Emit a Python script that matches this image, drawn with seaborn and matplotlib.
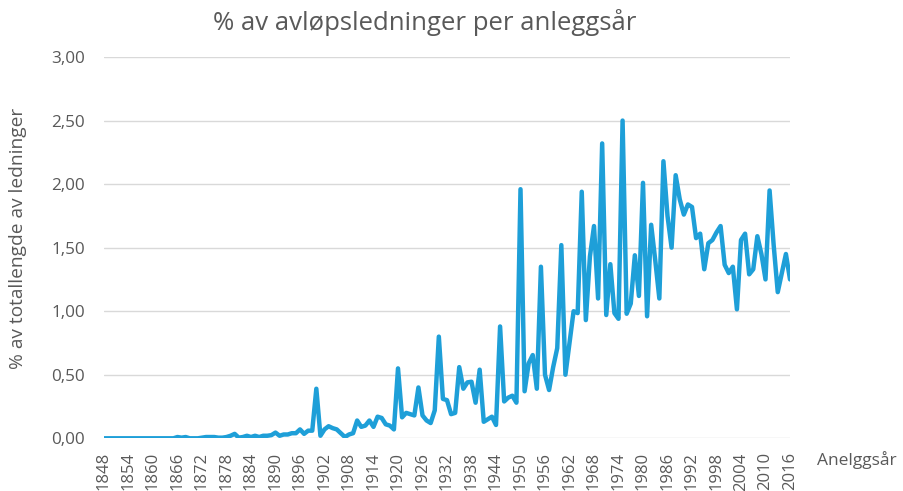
import numpy as np
import pandas as pd
import matplotlib
matplotlib.use("Agg")
import matplotlib.pyplot as plt
import seaborn as sns

years = list(range(1848, 2017))
values = (
    [0.0] * 18 +  # 1848-1865
    [0.01, 0.005, 0.01, 0.0, 0.0, 0.0, 0.005, 0.01, 0.01, 0.01,      # 1866-1875
     0.005, 0.005, 0.01, 0.02, 0.035, 0.005, 0.01, 0.02, 0.01, 0.02,  # 1876-1885
     0.01, 0.02, 0.02, 0.025, 0.045, 0.02, 0.03, 0.03, 0.04, 0.04,    # 1886-1895
     0.07, 0.035, 0.06, 0.06, 0.39, 0.02, 0.07, 0.095, 0.08, 0.07,    # 1896-1905
     0.04, 0.01, 0.03, 0.04, 0.14, 0.09, 0.10, 0.14, 0.09, 0.17,      # 1906-1915
     0.16, 0.11, 0.10, 0.07, 0.55, 0.165, 0.20, 0.19, 0.18, 0.40,     # 1916-1925
     0.18, 0.14, 0.12, 0.22, 0.80, 0.31, 0.30, 0.19, 0.20, 0.56,      # 1926-1935
     0.39, 0.44, 0.445, 0.28, 0.54, 0.13, 0.15, 0.17, 0.105, 0.88,    # 1936-1945
     0.29, 0.32, 0.335, 0.28, 1.96, 0.37, 0.59, 0.655, 0.39, 1.35,    # 1946-1955
     0.50, 0.38, 0.56, 0.71, 1.52, 0.50, 0.75, 1.00, 0.985, 1.94,     # 1956-1965
     0.93, 1.43, 1.67, 1.10, 2.32, 0.97, 1.37, 0.985, 0.94, 2.50,     # 1966-1975
     0.98, 1.06, 1.44, 1.12, 2.01, 0.96, 1.68, 1.40, 1.10, 2.18,      # 1976-1985
     1.75, 1.50, 2.07, 1.88, 1.76, 1.84, 1.82, 1.575, 1.61, 1.33,     # 1986-1995
     1.535, 1.56, 1.62, 1.67, 1.365, 1.30, 1.35, 1.015, 1.56, 1.61,   # 1996-2005
     1.29, 1.33, 1.59, 1.45, 1.25, 1.95, 1.52, 1.15, 1.30, 1.45,      # 2006-2015
     1.25]                                                            # 2016
)
tick_years = list(range(1848, 2017, 6))
y_ticks = [0, 0.5, 1.0, 1.5, 2.0, 2.5, 3.0]

title = "% av avløpsledninger per anleggsår"
ylabel = "% av totallengde av ledninger"
xlabel = "Anelggsår"

df = pd.DataFrame({"year": years, "pct": values})

sns.set_theme(style="white")
plt.rcParams["font.family"] = ["Open Sans", "DejaVu Sans"]

GRAY = "#595959"
fig = plt.figure(figsize=(9.04, 4.91), dpi=100)
ax = fig.add_axes([104 / 904, 52.7 / 491, (790 - 104) / 904, (438.3 - 57) / 491])

sns.lineplot(data=df, x="year", y="pct", ax=ax, color="#1E9FD8", linewidth=3.2,
             solid_joinstyle="round", solid_capstyle="round")

ax.set_xlim(1848, 2016)
ax.set_ylim(0, 3.0)
ax.set_yticks(y_ticks)
ax.set_yticklabels([f"{v:.2f}".replace(".", ",") for v in y_ticks], color=GRAY, fontsize=12.3)
ax.set_xticks(tick_years)
ax.set_xticklabels([str(y) for y in tick_years], rotation=90, color=GRAY, fontsize=12)
ax.tick_params(axis="both", length=0)
ax.tick_params(axis="y", pad=13.5)
ax.tick_params(axis="x", pad=10)
ax.grid(axis="y", color="#D9D9D9", linewidth=1.0)
ax.grid(axis="x", visible=False)
ax.set_axisbelow(True)
for s in ax.spines.values():
    s.set_visible(False)
ax.set_xlabel("")
ax.set_ylabel("")

fig.text(425 / 904, 1 - 22 / 491, title, ha="center", va="center", fontsize=18.5, color=GRAY)
fig.text(18 / 904, 1 - 238 / 491, ylabel, ha="center", va="center", rotation=90,
         fontsize=13.8, color=GRAY)
fig.text(817 / 904, 1 - 460 / 491, xlabel, ha="left", va="center", fontsize=12.5, color=GRAY)

fig.savefig("out.png", dpi=100)
